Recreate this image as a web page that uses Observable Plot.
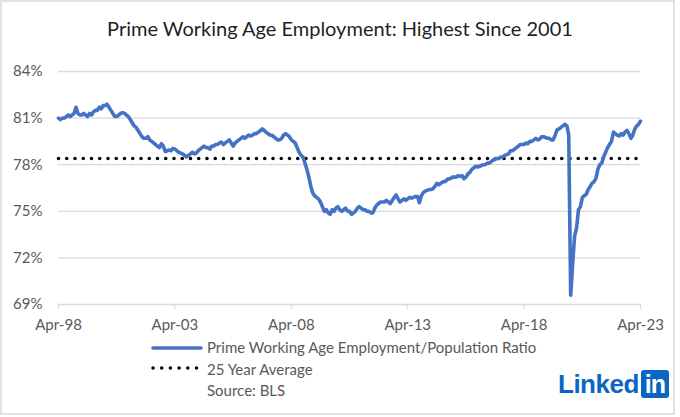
<!DOCTYPE html>
<html>
<head>
<meta charset="utf-8">
<script src="https://cdn.jsdelivr.net/npm/d3@7"></script>
<script src="https://cdn.jsdelivr.net/npm/@observablehq/plot@0.6"></script>
<style>
  html, body { margin: 0; padding: 0; background: #fff; }
  #page { position: relative; width: 680px; height: 417px; overflow: hidden; font-family: Lato, "Open Sans", sans-serif; }
  #frame { position: absolute; left: 0; top: 0; width: 675px; height: 415px; box-sizing: border-box; border: 2px solid #e2e2e2; }
  #title { position: absolute; left: 0; width: 680px; top: 16px; text-align: center; font-size: 20px; color: #1f1f1f; white-space: nowrap; }
  #chart { position: absolute; left: 0; top: 0; }
  .leg { position: absolute; left: 207px; font-size: 15px; color: #595959; white-space: nowrap; line-height: 1; }
  .sw { position: absolute; left: 150px; }
  #logo { position: absolute; left: 558px; top: 369px; height: 30px; display: flex; align-items: center; font-family: "Liberation Sans", Arial, sans-serif; font-weight: bold; color: #0a66c2; font-size: 26px; letter-spacing: -0.5px; }
  #logo .box { margin-left: 2px; background: #0a66c2; color: #fff; border-radius: 3px; height: 28px; width: 28px; display: flex; align-items: center; justify-content: center; font-size: 25px; letter-spacing: -1px; }
</style>
</head>
<body>
<div id="page">
  <div id="frame"></div>
  <div id="title">Prime Working Age Employment: Highest Since 2001</div>
  <div id="chart"></div>
  <svg class="sw" style="top:343px" width="56" height="10"><line x1="3" y1="5" x2="51" y2="5" stroke="#4472C4" stroke-width="3.5" stroke-linecap="round"/></svg>
  <div class="leg" id="leg1" style="top:340px">Prime Working Age Employment/Population Ratio</div>
  <svg class="sw" style="top:363px" width="56" height="10"><line x1="3" y1="5" x2="48" y2="5" stroke="#000" stroke-width="3.5" stroke-linecap="round" stroke-dasharray="0 8.7"/></svg>
  <div class="leg" id="leg2" style="top:362px">25 Year Average</div>
  <div class="leg" id="leg3" style="top:383px">Source: BLS</div>
  <div id="logo"><span>Linked</span><span class="box">in</span></div>
</div>
<script>
// ---- Data (monthly, starting April 1998) ----
const startYear = 1998;
const startMonth = 3; // April (0-based)

const ratio = [
  // Apr98 - Mar99
  81.0, 80.9, 81.0, 81.0, 81.1, 81.2, 81.1, 81.2, 81.3, 81.7, 81.3, 81.2,
  // Apr99 - Mar00
  81.2, 81.3, 81.2, 81.1, 81.3, 81.2, 81.4, 81.5, 81.5, 81.7, 81.6, 81.8,
  // Apr00 - Mar01
  81.8, 81.9, 81.7, 81.5, 81.3, 81.1, 81.1, 81.2, 81.3, 81.35, 81.3, 81.2,
  // Apr01 - Mar02
  81.1, 80.9, 80.7, 80.5, 80.4, 80.2, 80.0, 79.8, 79.7, 79.7, 79.8, 79.6,
  // Apr02 - Mar03
  79.5, 79.4, 79.3, 79.2, 79.1, 79.35, 79.2, 78.85, 78.9, 78.95, 78.9, 79.05,
  // Apr03 - Mar04
  79.0, 78.9, 78.8, 78.75, 78.7, 78.6, 78.5, 78.6, 78.7, 78.8, 78.7, 78.75,
  // Apr04 - Mar05
  78.9, 79.0, 79.1, 79.2, 79.1, 79.1, 79.0, 79.2, 79.2, 79.3, 79.3, 79.4,
  // Apr05 - Mar06
  79.45, 79.3, 79.4, 79.5, 79.6, 79.4, 79.2, 79.4, 79.5, 79.6, 79.7, 79.8,
  // Apr06 - Mar07
  79.7, 79.8, 79.9, 79.85, 79.9, 80.0, 80.0, 80.1, 80.2, 80.3, 80.2, 80.1,
  // Apr07 - Mar08
  80.0, 79.9, 79.9, 79.8, 79.7, 79.6, 79.6, 79.7, 79.9, 80.0, 79.9, 79.8,
  // Apr08 - Mar09
  79.6, 79.5, 79.4, 79.1, 78.8, 78.6, 78.5, 78.1, 77.7, 77.2, 76.6, 76.2,
  // Apr09 - Mar10
  76.0, 75.9, 75.8, 75.6, 75.3, 75.0, 75.1, 74.9, 74.8, 75.1, 75.0, 75.2,
  // Apr10 - Mar11
  75.3, 75.1, 75.0, 75.1, 75.2, 75.0, 75.0, 74.8, 74.9, 75.0, 75.2, 75.3,
  // Apr11 - Mar12
  75.2, 75.1, 75.1, 75.0, 75.0, 74.9, 74.9, 75.2, 75.4, 75.5, 75.6, 75.6,
  // Apr12 - Mar13
  75.6, 75.7, 75.6, 75.5, 75.7, 75.9, 76.05, 75.8, 75.6, 75.7, 75.8, 75.7,
  // Apr13 - Mar14
  75.8, 75.9, 75.85, 75.9, 75.95, 75.95, 75.55, 76.0, 76.2, 76.3, 76.35, 76.4,
  // Apr14 - Mar15
  76.4, 76.45, 76.6, 76.8, 76.7, 76.8, 76.9, 76.9, 77.0, 77.1, 77.1, 77.2,
  // Apr15 - Mar16
  77.2, 77.2, 77.3, 77.25, 77.3, 77.1, 77.2, 77.4, 77.5, 77.7, 77.8, 77.9,
  // Apr16 - Mar17
  77.85, 77.9, 77.95, 78.0, 78.0, 78.1, 78.1, 78.2, 78.3, 78.35, 78.4, 78.4,
  // Apr17 - Mar18
  78.5, 78.5, 78.6, 78.65, 78.7, 78.9, 78.9, 79.0, 79.1, 79.2, 79.3, 79.3,
  // Apr18 - Mar19
  79.3, 79.4, 79.35, 79.5, 79.5, 79.6, 79.7, 79.6, 79.65, 79.8, 79.8, 79.75,
  // Apr19 - Mar20
  79.7, 79.7, 79.6, 79.6, 79.9, 80.25, 80.3, 80.4, 80.5, 80.6, 80.5, 79.9,
  // Apr20 - Mar21
  69.6, 71.6, 73.4, 73.9, 75.1, 75.3, 75.9, 76.0, 76.1, 76.4, 76.6, 76.8,
  // Apr21 - Mar22
  76.9, 77.1, 77.7, 78.0, 78.1, 78.5, 78.8, 79.1, 79.3, 79.5, 80.1, 80.0,
  // Apr22 - Apr23
  79.9, 79.85, 80.0, 79.9, 80.1, 80.2, 80.0, 79.7, 79.9, 80.3, 80.5, 80.6, 80.8
];

const averageValue = 78.4;
const yTicks = [69, 72, 75, 78, 81, 84];
const xTickYears = [1998, 2003, 2008, 2013, 2018, 2023];
const xTickLabels = ["Apr-98", "Apr-03", "Apr-08", "Apr-13", "Apr-18", "Apr-23"];

// ---- Build table ----
const data = ratio.map((v, i) => ({ date: new Date(Date.UTC(startYear, startMonth + i, 1)), value: v }));
const avgData = [
  { date: data[0].date, value: averageValue },
  { date: data[data.length - 1].date, value: averageValue }
];
const tickDates = xTickYears.map(y => new Date(Date.UTC(y, startMonth, 1)));
const labelFor = d => xTickLabels[xTickYears.indexOf(d.getUTCFullYear())];

const chart = Plot.plot({
  width: 680,
  height: 345,
  marginLeft: 58,
  marginRight: 40,
  marginTop: 71,
  marginBottom: 41,
  style: { fontFamily: "Lato, 'Open Sans', sans-serif", fontSize: "15px", color: "#595959", background: "transparent", overflow: "visible" },
  x: { type: "utc", domain: [data[0].date, data[data.length - 1].date] },
  y: { domain: [69, 84] },
  marks: [
    Plot.gridY(yTicks.filter(t => t > 69), { stroke: "#d9d9d9", strokeOpacity: 1, strokeWidth: 1.3 }),
    Plot.axisY({ ticks: yTicks, tickFormat: d => d + "%", tickSize: 0, tickPadding: 16, fill: "#595959", label: null }),
    Plot.axisX({ ticks: tickDates, tickFormat: labelFor, tickSize: 5, tickPadding: 10, stroke: "#d9d9d9", fill: "#595959", label: null }),
    Plot.ruleY([69], { stroke: "#d9d9d9", strokeWidth: 1.5 }),
    Plot.lineY(avgData, { x: "date", y: "value", stroke: "#000", strokeWidth: 3.6, strokeDasharray: "0 8.25", strokeLinecap: "round" }),
    Plot.lineY(data, { x: "date", y: "value", stroke: "#4472C4", strokeWidth: 3.6, strokeLinejoin: "round", strokeLinecap: "round" })
  ]
});
document.getElementById("chart").appendChild(chart);
</script>
</body>
</html>
